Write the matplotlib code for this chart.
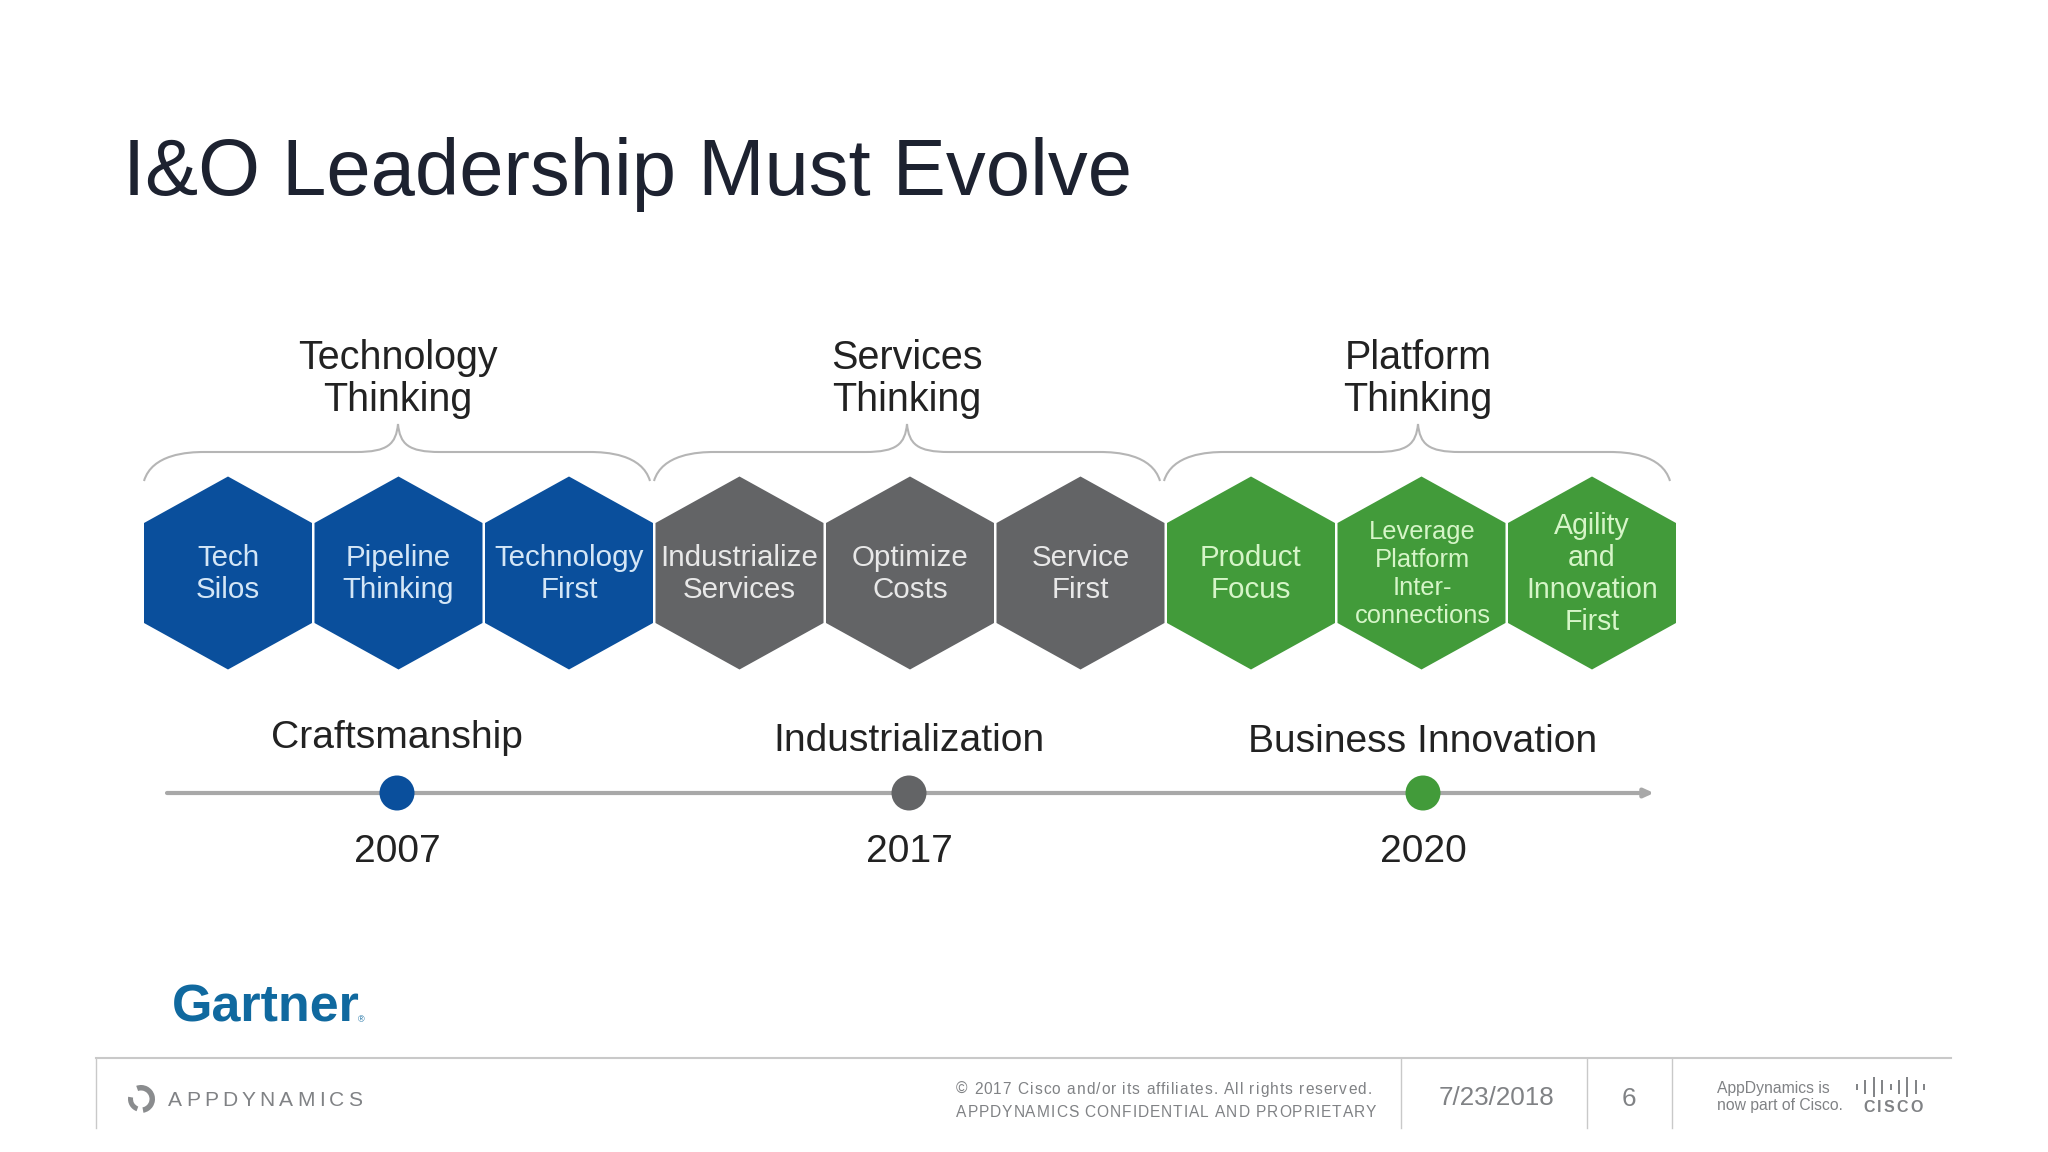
import matplotlib
matplotlib.use("Agg")
import matplotlib.pyplot as plt
from matplotlib.patches import Polygon, PathPatch, Circle, Wedge
from matplotlib.path import Path
from matplotlib.textpath import TextPath
from matplotlib.font_manager import FontProperties

plt.rcParams['font.family'] = ['Liberation Sans', 'DejaVu Sans']

# ---- data ----
title = "I&O Leadership Must Evolve"
group_labels = ["Technology\nThinking", "Services\nThinking", "Platform\nThinking"]
hex_labels = ["Tech\nSilos", "Pipeline\nThinking", "Technology\nFirst",
              "Industrialize\nServices", "Optimize\nCosts", "Service\nFirst",
              "Product\nFocus", "Leverage\nPlatform\nInter-\nconnections",
              "Agility\nand\nInnovation\nFirst"]
eras = ["Craftsmanship", "Industrialization", "Business Innovation"]
years = ["2007", "2017", "2020"]
cisco_bars = [1, 2, 3, 2, 1, 2, 3, 2, 1]

BLUE = "#0a4f9c"
GRAY = "#636466"
GREEN = "#429b3a"
group_colors = [BLUE, GRAY, GREEN]
text_colors = ["#d4e6f6", "#e8e8e8", "#d6f5c8"]
LINE = "#c9c9c9"
FOOT = "#808285"

fig = plt.figure(figsize=(20.48, 11.52), dpi=100, facecolor="white")
ax = fig.add_axes([0, 0, 1, 1])
ax.set_xlim(0, 2048)
ax.set_ylim(1152, 0)
ax.axis("off")


def px(pt_px):
    # font size in points for a size in pixels
    return pt_px * 72 / 100


def tracked(x, y, s, size, track, color, weight="normal"):
    """Left aligned text with letter spacing, one Text per character"""
    fp = FontProperties(family="Liberation Sans", weight=weight)
    pos = x
    for ch in s:
        ax.text(pos, y, ch, fontsize=px(size), color=color, weight=weight,
                ha="left", va="baseline")
        nn = TextPath((0, 0), "nn", size=size, prop=fp).get_extents().width
        w = TextPath((0, 0), "n" + ch + "n", size=size, prop=fp).get_extents().width - nn
        pos += w + track


# title
ax.text(123, 195, title, fontsize=px(79.6), color="#1d2230", ha="left", va="baseline")

# hexagons
xc0, dx, yc = 228, 170.5, 573
hw, hh, sh = 84, 96.5, 50
for i, lab in enumerate(hex_labels):
    xc = xc0 + i * dx
    g = i // 3
    ax.add_patch(Polygon([(xc, yc - hh), (xc + hw, yc - sh), (xc + hw, yc + sh),
                          (xc, yc + hh), (xc - hw, yc + sh), (xc - hw, yc - sh)],
                         closed=True, fc=group_colors[g], ec="none"))
    nlines = lab.count("\n") + 1
    if i == 7:
        size, sp = 25.5, 1.21
    elif nlines == 4:
        size, sp = 28.5, 1.17
    else:
        size, sp = 29.5, 1.18
    ax.text(xc + (1 if i == 7 else 0), yc + 1, lab,
            fontsize=px(size), color=text_colors[g], ha="center", va="center",
            linespacing=sp)

# braces and group titles
tips = [398, 907, 1418]
for g, tip in enumerate(tips):
    left = 144 + g * 510
    right = left + 506
    y_end, y_bar, y_tip = 481, 452, 424
    verts = [(left, y_end), (left + 8, y_bar + 2), (left + 44, y_bar), (left + 60, y_bar),
             (tip - 42, y_bar), (tip - 10, y_bar), (tip - 2, y_bar - 8), (tip, y_tip),
             (tip + 2, y_bar - 8), (tip + 10, y_bar), (tip + 42, y_bar),
             (right - 60, y_bar), (right - 44, y_bar), (right - 8, y_bar + 2), (right, y_end)]
    codes = [Path.MOVETO, Path.CURVE4, Path.CURVE4, Path.CURVE4,
             Path.LINETO, Path.CURVE4, Path.CURVE4, Path.CURVE4,
             Path.CURVE4, Path.CURVE4, Path.CURVE4,
             Path.LINETO, Path.CURVE4, Path.CURVE4, Path.CURVE4]
    ax.add_patch(PathPatch(Path(verts, codes), fc="none", ec="#b5b5b5", lw=1.5))
    ax.text(tip, 379, group_labels[g], fontsize=px(39.5), color="#222222",
            ha="center", va="center", linespacing=1.11)

# timeline
ax.annotate("", xy=(1654, 793), xytext=(167, 793),
            arrowprops=dict(arrowstyle="-|>,head_width=0.25,head_length=0.55",
                            color="#a8a8a8", lw=3, shrinkA=0, shrinkB=0))
dots = [397, 909, 1423]
era_y = [738, 741, 742]
for j, x in enumerate(dots):
    ax.add_patch(Circle((x, 793), 17.5, fc=group_colors[j], ec="none", zorder=3))
    ax.text(x, era_y[j], eras[j], fontsize=px(39), color="#222222", ha="center", va="center")
    ax.text(x, 852, years[j], fontsize=px(39), color="#222222", ha="center", va="center")

# Gartner logo
ax.text(172, 1022, "Gartner", fontsize=px(52), color="#10699f", weight="bold",
        ha="left", va="baseline")
ax.text(358, 1022, "®", fontsize=px(9), color="#10699f", ha="left", va="baseline")

# footer
ax.plot([96, 1951], [1058, 1058], color=LINE, lw=1.5)
for x in [96, 1401, 1587, 1672]:
    ax.plot([x, x], [1058, 1128], color=LINE, lw=1)

ax.add_patch(Wedge((141, 1099), 14, -110, 80, width=5.5, fc="#8a8c8e", ec="none"))
ax.add_patch(Wedge((141, 1099), 13, 110, 190, width=5, fc="#8a8c8e", ec="none"))
tracked(168, 1106, "APPDYNAMICS", 21, 4.1, FOOT)

tracked(956, 1094, "\u00a9 2017 Cisco and/or its affiliates. All rights reserved.", 15.5, 1.02, FOOT)
tracked(956, 1117, "APPDYNAMICS CONFIDENTIAL AND PROPRIETARY", 15.5, 0.95, FOOT)
ax.text(1497, 1098, "7/23/2018", fontsize=px(26), color=FOOT, ha="center", va="center")
ax.text(1629, 1099, "6", fontsize=px(26), color=FOOT, ha="center", va="center")
ax.text(1717, 1093, "AppDynamics is", fontsize=px(15.7), color=FOOT, ha="left", va="baseline")
ax.text(1717, 1110, "now part of Cisco.", fontsize=px(15.7), color=FOOT, ha="left", va="baseline")

for k, h in enumerate(cisco_bars):
    x = 1857 + k * 8.4
    ax.plot([x, x], [1087 - h * 3.4, 1087 + h * 3.4], color=FOOT, lw=1.4, solid_capstyle="butt")
tracked(1863, 1112, "CISCO", 16, 2.4, FOOT, weight="bold")

fig.savefig("out.png", dpi=100, facecolor="white")
